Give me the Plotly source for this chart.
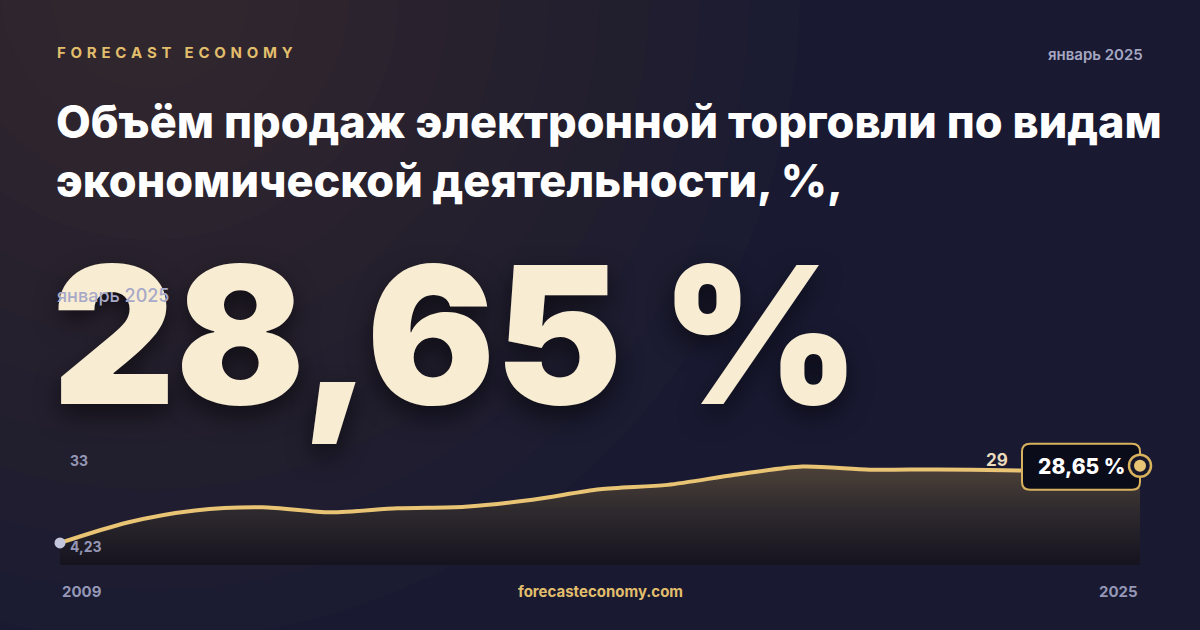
import plotly.graph_objects as go

# yearly values, % (last point is January 2025)
years = [2009, 2010, 2011, 2012, 2013, 2014, 2015, 2016, 2017,
         2018, 2019, 2020, 2021, 2022, 2023, 2024, 2025]
values = [4.23, 10.7, 14.5, 15.5, 13.9, 15.2, 15.7, 17.9, 21.2,
          22.6, 25.8, 28.4, 27.4, 27.5, 27.2, 27.1, 28.65]

axis_top = 33
axis_bottom = -2.75
last_label = "28,65 %"
prev_label = "29"
period = "январь 2025"
brand = "FORECAST ECONOMY"
title = "Объём продаж электронной торговли по видам<br>экономической деятельности, %,"

W, H = 1200, 630
BG = "#191a32"
GOLD = "#e8c474"
GREY = "#9597b6"


def px(x):
    return x / W


def py(y):
    return (H - y) / H


# chart box in pixels: 2009 at x=60, 2025 at x=1140; axis_bottom at y=565, axis_top at y=452.
# the subplot is made a bit larger so the value box and end marker are not clipped
x_per_px = (years[-1] - years[0]) / (1140 - 60)
y_per_px = (axis_top - axis_bottom) / (565 - 452)
x_hi = years[-1] + 25 * x_per_px
y_hi = axis_top + 27 * y_per_px

fig = go.Figure()

# baseline for the filled area
fig.add_trace(go.Scatter(x=years, y=[axis_bottom] * len(years), mode="lines",
                         line=dict(width=0, color="rgba(0,0,0,0)"),
                         hoverinfo="skip", showlegend=False))
fig.add_trace(go.Scatter(x=years, y=values, mode="lines",
                         line=dict(color=GOLD, width=4, shape="spline", smoothing=0.8),
                         fill="tonexty",
                         fillgradient=dict(type="vertical", start=axis_bottom, stop=29,
                                           colorscale=[[0, "#15131f"], [0.55, "#2f2a2e"], [1, "#4e4339"]]),
                         hoverinfo="skip", showlegend=False))
# start point
fig.add_trace(go.Scatter(x=[years[0]], y=[values[0]], mode="markers",
                         marker=dict(size=11, color="#c3c6dc"),
                         cliponaxis=False, hoverinfo="skip", showlegend=False))

shapes = []
# soft warm glow in the top-left corner
for r in range(650, 50, -50):
    cx, cy = 150, -10
    shapes.append(dict(type="circle", xref="paper", yref="paper", layer="below",
                       x0=px(cx - r), x1=px(cx + r), y0=py(cy + r), y1=py(cy - r),
                       fillcolor="#544030", opacity=0.042, line=dict(width=0)))

# value box at the last point
shapes.append(dict(type="path", xref="x", yref="y", xsizemode="pixel", ysizemode="pixel",
                   xanchor=years[-1], yanchor=values[-1],
                   path="M -110,22 L -8,22 Q 0,22 0,14 L 0,-16 Q 0,-24 -8,-24 L -110,-24 "
                        "Q -118,-24 -118,-16 L -118,14 Q -118,22 -110,22 Z",
                   fillcolor="#0b0c19", line=dict(color="#d9b25e", width=2)))
# end marker: ring + dot
shapes.append(dict(type="circle", xref="x", yref="y", xsizemode="pixel", ysizemode="pixel",
                   xanchor=years[-1], yanchor=values[-1], x0=-11, x1=11, y0=-11, y1=11,
                   fillcolor="#17182b", line=dict(color="#d9b25e", width=2.5)))
shapes.append(dict(type="circle", xref="x", yref="y", xsizemode="pixel", ysizemode="pixel",
                   xanchor=years[-1], yanchor=values[-1], x0=-6, x1=6, y0=-6, y1=6,
                   fillcolor=GOLD, line=dict(width=0)))

ann = []


def text(x, y, s, size, color, weight=700, xanchor="left", yanchor="middle", **kw):
    ann.append(dict(x=px(x), y=py(y), xref="paper", yref="paper", text=s, showarrow=False,
                    xanchor=xanchor, yanchor=yanchor, align="left",
                    font=dict(family="Inter", size=size, color=color, weight=weight, **kw)))


# no letter-spacing in plotly, so pad the letters
spaced = " \u200a".join(brand).replace(" \u200a \u200a \u200a", "   ")
text(55, 52, spaced, 15, "#e2be6c", 700)
text(1145, 54, period, 15, "#a6a7c2", 600, xanchor="right")
text(54, 151, title, 45, "#ffffff", 800)
text(50, 334, last_label, 191, "#f8ecd2", 900,
     shadow="0px 10px 24px rgba(0,0,0,0.55)")
text(55, 295, period, 18, "#a8a9c8", 500)

text(60, 591, str(years[0]), 15, GREY, 700)
text(1140, 591, str(years[-1]), 15, GREY, 700, xanchor="right")
text(600, 591, "forecasteconomy.com", 15, "#e2be6c", 700, xanchor="center")

# value labels on the chart
ann.append(dict(x=years[0], y=axis_top, xref="x", yref="y", text=str(axis_top), showarrow=False,
                xanchor="left", yanchor="middle", xshift=8, yshift=-8,
                font=dict(family="Inter", size=14, color=GREY, weight=700)))
ann.append(dict(x=years[0], y=values[0], xref="x", yref="y", text=f"{values[0]:.2f}".replace(".", ","),
                showarrow=False, xanchor="left", yanchor="middle", xshift=8, yshift=-4,
                font=dict(family="Inter", size=14, color=GREY, weight=700)))
ann.append(dict(x=years[-3], y=values[-3], xref="x", yref="y", text=prev_label, showarrow=False,
                xanchor="center", yanchor="bottom", xshift=-8, yshift=-2,
                font=dict(family="Inter", size=17, color="#eadcbc", weight=700)))
ann.append(dict(x=years[-1], y=values[-1], xref="x", yref="y", text=last_label, showarrow=False,
                xanchor="center", yanchor="middle", xshift=-59, yshift=-1,
                font=dict(family="Inter", size=21, color="#ffffff", weight=800)))

fig.update_layout(
    width=W, height=H,
    margin=dict(l=0, r=0, t=0, b=0),
    paper_bgcolor=BG, plot_bgcolor="rgba(0,0,0,0)",
    shapes=shapes, annotations=ann,
    xaxis=dict(domain=[px(60), px(1165)], range=[years[0], x_hi],
               visible=False, fixedrange=True),
    yaxis=dict(domain=[py(565), py(425)], range=[axis_bottom, y_hi],
               visible=False, fixedrange=True),
    showlegend=False,
)

fig.write_html("out.html", config={"displayModeBar": False},
               post_script="document.body.style.margin='0';"
                           "document.body.style.background='" + BG + "';")
